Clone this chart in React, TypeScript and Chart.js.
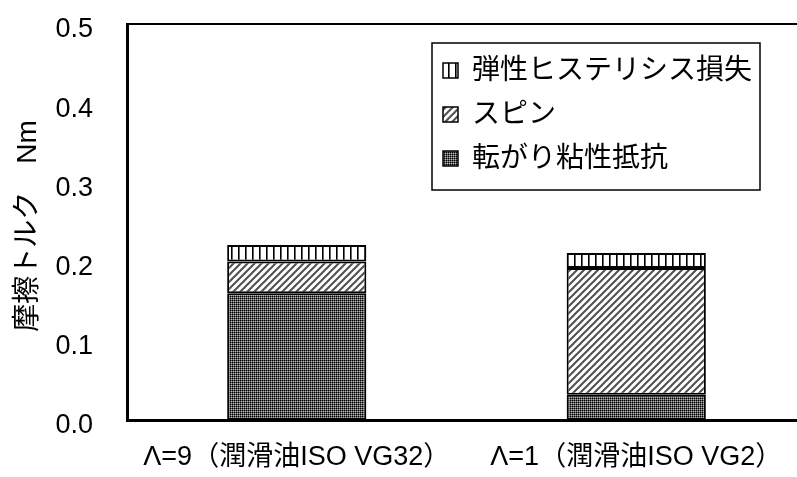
import React, { useEffect, useRef } from "react";
import { Chart, registerables } from "chart.js";

Chart.register(...registerables);

const categories = ["Λ=9（潤滑油ISO VG32）", "Λ=1（潤滑油ISO VG2）"];
const viscousValues = [0.16, 0.032];
const spinValues = [0.04, 0.16];
const hysteresisValues = [0.021, 0.019];
const seriesNames = ["転がり粘性抵抗", "スピン", "弾性ヒステリシス損失"];
const yTitle = "摩擦トルク　Nm";
const yMin = 0;
const yMax = 0.5;
const yStep = 0.1;

const FONT = "'Liberation Sans', 'Noto Sans CJK JP', sans-serif";

function makePattern(kind: string): CanvasPattern | string {
  const c = document.createElement("canvas");
  const ctx = c.getContext("2d")!;
  if (kind === "vertical") {
    c.width = 7;
    c.height = 4;
    ctx.fillStyle = "#ffffff";
    ctx.fillRect(0, 0, 7, 4);
    ctx.fillStyle = "#000000";
    ctx.fillRect(0, 0, 1.6, 4);
  } else if (kind === "diagonal") {
    const s = 7;
    c.width = s;
    c.height = s;
    ctx.fillStyle = "#ffffff";
    ctx.fillRect(0, 0, s, s);
    ctx.strokeStyle = "#505050";
    ctx.lineWidth = 2;
    for (let k = -1; k <= 1; k++) {
      ctx.beginPath();
      ctx.moveTo(k * s - 1, s + 1);
      ctx.lineTo(k * s + s + 1, -1);
      ctx.stroke();
    }
  } else {
    c.width = 2;
    c.height = 2;
    ctx.fillStyle = "#000000";
    ctx.fillRect(0, 0, 1, 1);
    ctx.fillStyle = "#5a5a5a";
    ctx.fillRect(1, 0, 1, 1);
    ctx.fillRect(0, 1, 1, 1);
    ctx.fillStyle = "#b4b4b4";
    ctx.fillRect(1, 1, 1, 1);
  }
  const p = ctx.createPattern(c, "repeat");
  return p || "#888";
}

export default function App() {
  const ref = useRef<HTMLCanvasElement | null>(null);

  useEffect(() => {
    if (!ref.current) return;
    const pViscous = makePattern("dots");
    const pSpin = makePattern("diagonal");
    const pHyst = makePattern("vertical");

    const framePlugin = {
      id: "framePlugin",
      afterDraw(chart: any) {
        const ctx = chart.ctx;
        const a = chart.chartArea;
        ctx.save();
        ctx.strokeStyle = "#000";
        ctx.lineWidth = 2;
        ctx.beginPath();
        ctx.moveTo(a.left, a.top);
        ctx.lineTo(a.right, a.top);
        ctx.lineTo(a.right, a.bottom);
        ctx.stroke();

        // y title
        ctx.fillStyle = "#000";
        ctx.font = "28px " + FONT;
        ctx.textAlign = "center";
        ctx.textBaseline = "middle";
        ctx.translate(28, (a.top + a.bottom) / 2 + 4);
        ctx.rotate(-Math.PI / 2);
        ctx.fillText(yTitle, 0, 0);
        ctx.restore();

        // legend
        ctx.save();
        const bx = 432, by = 43, bw = 328, bh = 147;
        ctx.fillStyle = "#fff";
        ctx.fillRect(bx, by, bw, bh);
        ctx.strokeStyle = "#000";
        ctx.lineWidth = 1.5;
        ctx.strokeRect(bx, by, bw, bh);
        const ds = chart.data.datasets;
        const order = [2, 1, 0];
        const rowsY = [70, 114, 158];
        ctx.font = "28px " + FONT;
        ctx.textAlign = "left";
        ctx.textBaseline = "middle";
        order.forEach((di, i) => {
          const y = rowsY[i];
          ctx.fillStyle = ds[di].backgroundColor;
          ctx.fillRect(443, y - 7, 15, 15);
          ctx.strokeStyle = "#000";
          ctx.lineWidth = 1.5;
          ctx.strokeRect(443, y - 7, 15, 15);
          ctx.fillStyle = "#000";
          ctx.fillText(ds[di].label, 472, y + 1);
        });
        ctx.restore();
      },
    };

    const chart = new Chart(ref.current, {
      type: "bar",
      data: {
        labels: categories,
        datasets: [
          {
            label: seriesNames[0],
            data: viscousValues,
            backgroundColor: pViscous as any,
            borderColor: "#000",
            borderWidth: 2,
            borderSkipped: false,
          },
          {
            label: seriesNames[1],
            data: spinValues,
            backgroundColor: pSpin as any,
            borderColor: "#000",
            borderWidth: 2,
            borderSkipped: false,
          },
          {
            label: seriesNames[2],
            data: hysteresisValues,
            backgroundColor: pHyst as any,
            borderColor: "#000",
            borderWidth: 2,
            borderSkipped: false,
          },
        ],
      },
      options: {
        responsive: false,
        animation: false,
        devicePixelRatio: 1,
        layout: { padding: { top: 24, right: 0, left: 0, bottom: 0 } },
        datasets: {
          bar: { categoryPercentage: 1, barPercentage: 0.41 },
        },
        plugins: {
          legend: { display: false },
          tooltip: { enabled: false },
        },
        scales: {
          x: {
            stacked: true,
            grid: { display: false, drawTicks: false },
            border: { display: true, color: "#000", width: 3 },
            ticks: {
              color: "#000",
              font: { family: FONT, size: 27 },
              padding: 21,
              maxRotation: 0,
              autoSkip: false,
            },
            afterFit(scale: any) {
              scale.height = 57;
              scale.paddingLeft = 0;
              scale.paddingRight = 0;
            },
          },
          y: {
            stacked: true,
            min: yMin,
            max: yMax,
            grid: { display: false, drawTicks: false },
            border: { display: true, color: "#000", width: 3 },
            ticks: {
              stepSize: yStep,
              color: "#000",
              font: { family: FONT, size: 27 },
              padding: 34,
              labelOffset: 6,
              callback: (v: any) => Number(v).toFixed(1),
            },
            afterFit(scale: any) {
              scale.width = 127;
              scale.paddingTop = 0;
              scale.paddingBottom = 0;
            },
          },
        },
      },
      plugins: [framePlugin],
    });
    return () => chart.destroy();
  }, []);

  return (
    <div
      style={{
        position: "absolute",
        left: 0,
        top: 0,
        width: 797,
        height: 477,
        overflow: "hidden",
        background: "#fff",
      }}
    >
      <canvas ref={ref} width={806} height={477} style={{ width: 806, height: 477, display: "block" }} />
    </div>
  );
}
